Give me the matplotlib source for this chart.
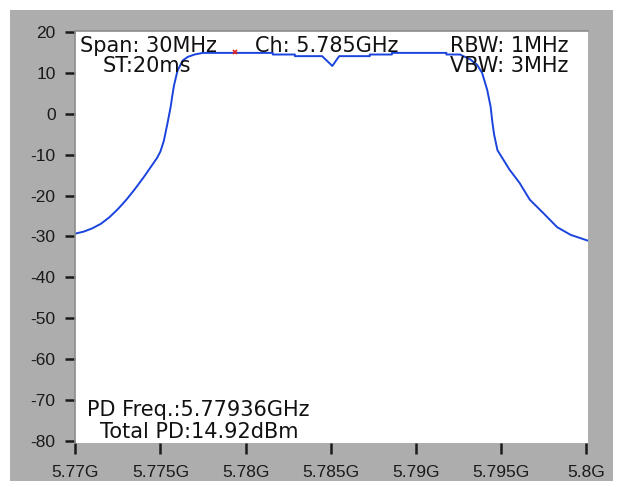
import matplotlib
matplotlib.use("Agg")
import matplotlib.pyplot as plt
from matplotlib.patches import Rectangle
from matplotlib.lines import Line2D

plt.rcParams["font.family"] = ["Liberation Sans", "DejaVu Sans"]
plt.rcParams["axes.unicode_minus"] = False

# Spectrum trace (frequency in GHz, level in dBm)
freq_ghz = [
    5.7700, 5.7705, 5.7710, 5.7715, 5.7720, 5.7725, 5.7730, 5.7735, 5.7740,
    5.7745, 5.7748, 5.7750, 5.7752, 5.7754, 5.7756, 5.7757, 5.7758, 5.7760,
    5.7763, 5.7766, 5.7770, 5.7775, 5.7816, 5.7816, 5.7829, 5.7829, 5.7845,
    5.7851, 5.7855, 5.7873, 5.7873, 5.7886, 5.7886, 5.7918, 5.7918, 5.7926,
    5.7932, 5.7936, 5.7939, 5.7942, 5.7944, 5.7945, 5.7946, 5.7948, 5.7951,
    5.7955, 5.7961, 5.7967, 5.7975, 5.7983, 5.7991, 5.8001,
]
level_dbm = [
    -29.3, -28.8, -28.0, -26.9, -25.3, -23.3, -21.0, -18.4, -15.6,
    -12.6, -10.8, -9.2, -6.6, -2.6, 1.7, 4.5, 7.0, 10.5,
    13.0, 13.9, 14.5, 14.9, 14.9, 14.5, 14.5, 14.1, 14.1,
    11.7, 14.1, 14.1, 14.5, 14.5, 14.9, 14.9, 14.5, 14.5,
    13.3, 12.0, 10.0, 5.8, 1.7, -2.0, -5.0, -8.9, -10.9,
    -13.6, -16.9, -21.0, -24.3, -27.7, -29.6, -31.0,
]

# Peak marker
marker_freq = [5.77936]
marker_level = [15.0]

x_ticks = [5.770, 5.775, 5.780, 5.785, 5.790, 5.795, 5.800]
x_tick_labels = ["5.77G", "5.775G", "5.78G", "5.785G", "5.79G", "5.795G", "5.8G"]
y_ticks = [20, 10, 0, -10, -20, -30, -40, -50, -60, -70, -80]

W, H = 619, 487
fig = plt.figure(figsize=(W / 100, H / 100), dpi=100, facecolor="white")

def px(x, y):
    return x / W, 1 - y / H

# grey instrument panel behind the plot
fig.patches.append(Rectangle(px(10, 481), 603 / W, 471 / H, transform=fig.transFigure,
                             facecolor="#adadad", edgecolor="none", zorder=-10))

ax = fig.add_axes([75 / W, 1 - 443 / H, 513 / W, 412 / H])
ax.set_facecolor("white")
ax.plot(freq_ghz, level_dbm, color="#1a44dd", lw=1.4, zorder=3)
ax.plot(marker_freq, marker_level, marker="x", color="#e02020", ms=3.5, mew=1.2,
        ls="none", zorder=4)

ax.set_xlim(5.76998, 5.80012)
ax.set_ylim(-80.5, 20.25)

for s in ["top", "right", "left", "bottom"]:
    ax.spines[s].set_visible(False)

ax.set_xticks(x_ticks)
ax.set_xticklabels(x_tick_labels)
ax.set_yticks(y_ticks)
ax.set_yticklabels([str(v) for v in y_ticks])

ax.tick_params(axis="y", direction="out", length=7, width=1.8, pad=7,
               colors="#1a1a1a", labelsize=12.5)
ax.tick_params(axis="x", direction="out", length=8, width=1.8, pad=7.5,
               colors="#1a1a1a", labelsize=12.5)

# inset frame edges
ax.add_line(Line2D([0, 1], [1, 1], transform=ax.transAxes, color="#8c8c8c",
                   lw=1.2, clip_on=False, zorder=5))
ax.add_line(Line2D([0, 0], [0, 1], transform=ax.transAxes, color="#8c8c8c",
                   lw=1.2, clip_on=False, zorder=5))

txt = dict(family="DejaVu Sans", size=15, color="#111111", va="baseline",
           ha="left", transform=fig.transFigure)
fig.text(*px(80, 51.5), "Span: 30MHz", **txt)
fig.text(*px(103, 71.5), "ST:20ms", **txt)
fig.text(*px(255, 51.5), "Ch: 5.785GHz", **txt)
fig.text(*px(450, 51.5), "RBW: 1MHz", **txt)
fig.text(*px(450, 71.5), "VBW: 3MHz", **txt)
fig.text(*px(87, 416.5), "PD Freq.:5.77936GHz", **txt)
fig.text(*px(100, 438.5), "Total PD:14.92dBm", **txt)

fig.savefig("out.png", dpi=100, facecolor="white")
